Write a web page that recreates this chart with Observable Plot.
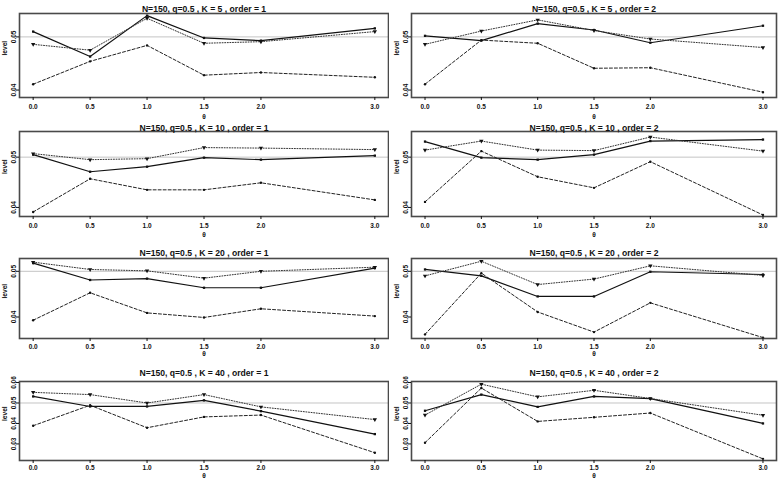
<!DOCTYPE html>
<html>
<head>
<meta charset="utf-8">
<script src="https://cdn.jsdelivr.net/npm/d3@7"></script>
<script src="https://cdn.jsdelivr.net/npm/@observablehq/plot@0.6"></script>
<style>
  html, body { margin: 0; padding: 0; background: #fff; }
  #wrap { position: relative; width: 778px; height: 480px; overflow: hidden; background: #fff; }
  #wrap > div { position: absolute; }
</style>
</head>
<body>
<div id="wrap"></div>
<script>
// ---- data ----
const theta = [0, 0.5, 1.0, 1.5, 2.0, 3.0];
const Ks = [5, 10, 20, 40];
const orders = [1, 2];
const seriesNames = ["solid", "dashed", "dotted"];

// K = 5
const k5o1_solid  = [0.0510, 0.0463, 0.0540, 0.0498, 0.0493, 0.0516];
const k5o1_dotted = [0.0486, 0.0475, 0.0535, 0.0488, 0.0491, 0.0510];
const k5o1_dashed = [0.0411, 0.0454, 0.0484, 0.0428, 0.0433, 0.0424];
const k5o2_solid  = [0.0502, 0.0493, 0.0525, 0.0513, 0.0489, 0.0521];
const k5o2_dotted = [0.0486, 0.0511, 0.0532, 0.0512, 0.0496, 0.0480];
const k5o2_dashed = [0.0411, 0.0494, 0.0488, 0.0441, 0.0442, 0.0396];
// K = 10
const k10o1_solid  = [0.0505, 0.0471, 0.0481, 0.0499, 0.0495, 0.0503];
const k10o1_dotted = [0.0507, 0.0495, 0.0497, 0.0519, 0.0518, 0.0515];
const k10o1_dashed = [0.0391, 0.0457, 0.0435, 0.0435, 0.0449, 0.0415];
const k10o2_solid  = [0.0531, 0.0499, 0.0495, 0.0505, 0.0532, 0.0535];
const k10o2_dotted = [0.0514, 0.0532, 0.0514, 0.0513, 0.0540, 0.0512];
const k10o2_dashed = [0.0411, 0.0512, 0.0461, 0.0439, 0.0491, 0.0385];
// K = 20
const k20o1_solid  = [0.0518, 0.0481, 0.0484, 0.0464, 0.0464, 0.0507];
const k20o1_dotted = [0.0520, 0.0504, 0.0501, 0.0485, 0.0500, 0.0509];
const k20o1_dashed = [0.0393, 0.0453, 0.0409, 0.0399, 0.0418, 0.0402];
const k20o2_solid  = [0.0504, 0.0490, 0.0445, 0.0445, 0.0499, 0.0493];
const k20o2_dotted = [0.0490, 0.0522, 0.0471, 0.0483, 0.0512, 0.0491];
const k20o2_dashed = [0.0362, 0.0496, 0.0411, 0.0367, 0.0431, 0.0355];
// K = 40
const k40o1_solid  = [0.0532, 0.0483, 0.0483, 0.0513, 0.0460, 0.0348];
const k40o1_dotted = [0.0552, 0.0541, 0.0500, 0.0541, 0.0481, 0.0419];
const k40o1_dashed = [0.0389, 0.0489, 0.0379, 0.0432, 0.0441, 0.0257];
const k40o2_solid  = [0.0462, 0.0541, 0.0481, 0.0532, 0.0521, 0.0400];
const k40o2_dotted = [0.0441, 0.0592, 0.0530, 0.0562, 0.0522, 0.0440];
const k40o2_dashed = [0.0306, 0.0573, 0.0410, 0.0430, 0.0451, 0.0227];

const nominalLevel = 0.05;
const yTicksByK = {5: [0.04, 0.05], 10: [0.04, 0.05], 20: [0.04, 0.05], 40: [0.03, 0.04, 0.05, 0.06]};

const panelValues = {
  "5-1": {solid: k5o1_solid, dashed: k5o1_dashed, dotted: k5o1_dotted},
  "5-2": {solid: k5o2_solid, dashed: k5o2_dashed, dotted: k5o2_dotted},
  "10-1": {solid: k10o1_solid, dashed: k10o1_dashed, dotted: k10o1_dotted},
  "10-2": {solid: k10o2_solid, dashed: k10o2_dashed, dotted: k10o2_dotted},
  "20-1": {solid: k20o1_solid, dashed: k20o1_dashed, dotted: k20o1_dotted},
  "20-2": {solid: k20o2_solid, dashed: k20o2_dashed, dotted: k20o2_dotted},
  "40-1": {solid: k40o1_solid, dashed: k40o1_dashed, dotted: k40o1_dotted},
  "40-2": {solid: k40o2_solid, dashed: k40o2_dashed, dotted: k40o2_dotted}
};

// ---- layout ----
const rowLayout = [
  {top: 0,   mt: 13, mb: 23, domain: [0.0386, 0.0544], titleDy: -8,  thetaDy: 21,   pad: 3.5},
  {top: 119, mt: 12, mb: 23, domain: [0.0382, 0.0551], titleDy: -7,  thetaDy: 20,   pad: 3.5},
  {top: 240, mt: 18, mb: 22, domain: [0.0353, 0.0528], titleDy: -9,  thetaDy: 17.5, pad: 3},
  {top: 360, mt: 21, mb: 20, domain: [0.0219, 0.0605], titleDy: -12, thetaDy: 17,   pad: 2}
];
const colLayout = [
  {left: 0,   ml: 19, mr: 1},
  {left: 389, ml: 22, mr: 2}
];
const styles = {
  solid:  {stroke: "#111", strokeWidth: 1.2, dash: null,  symbol: "square",   r: 1.3, rot: 0},
  dashed: {stroke: "#222", strokeWidth: 1.0, dash: "3,2", symbol: "circle",   r: 1.2, rot: 0},
  dotted: {stroke: "#333", strokeWidth: 1.0, dash: "1,1.6", symbol: "triangle", r: 1.6, rot: 180}
};

const wrap = document.getElementById("wrap");
const fmt1 = d3.format(".1f");
const fmt2 = d3.format(".2f");

Ks.forEach((K, ri) => {
  orders.forEach((order, ci) => {
    const R = rowLayout[ri], C = colLayout[ci];
    const vals = panelValues[`${K}-${order}`];
    const rows = [];
    for (const s of seriesNames) vals[s].forEach((v, i) => rows.push({series: s, theta: theta[i], level: v}));
    const title = `N=150, q=0.5 , K = ${K} , order = ${order}`;
    const marks = [
      Plot.ruleY([nominalLevel], {stroke: "#c4c4c4", strokeWidth: 1})
    ];
    for (const s of seriesNames) {
      const st = styles[s];
      const d = rows.filter(r => r.series === s);
      marks.push(Plot.line(d, {x: "theta", y: "level", stroke: st.stroke, strokeWidth: st.strokeWidth, strokeDasharray: st.dash}));
      marks.push(Plot.dot(d, {x: "theta", y: "level", symbol: () => st.symbol, fill: "#111", stroke: "none", r: st.r, rotate: st.rot}));
    }
    marks.push(
      Plot.frame({stroke: "#4a4a4a", strokeWidth: 1.6}),
      Plot.axisX({ticks: theta, tickFormat: fmt1, tickSize: 3, tickPadding: R.pad, label: null}),
      Plot.axisY({ticks: yTicksByK[K], tickFormat: () => "", tickSize: 3, label: null}),
      Plot.text(yTicksByK[K], {y: d => d, text: d => fmt2(d), frameAnchor: "left", dx: -4, rotate: -90, textAnchor: "middle", lineAnchor: "bottom"}),
      Plot.text([title], {frameAnchor: "top", dy: R.titleDy, fontSize: 8.6, fontWeight: "bold"}),
      Plot.text(["level"], {frameAnchor: "left", dx: -14.5, rotate: -90, fontSize: 6.6}),
      Plot.text(["θ"], {frameAnchor: "bottom", dy: R.thetaDy, fontSize: 6.6})
    );
    const chart = Plot.plot({
      width: 389,
      height: 120,
      marginTop: R.mt,
      marginBottom: R.mb,
      marginLeft: C.ml,
      marginRight: C.mr,
      x: {domain: [-0.12, 3.12]},
      y: {domain: R.domain},
      symbol: {type: "identity"},
      style: {fontFamily: "'Liberation Sans', Arial, sans-serif", fontWeight: "bold", fontSize: "6.5px", background: "transparent", color: "#111"},
      marks
    });
    const holder = document.createElement("div");
    holder.style.left = C.left + "px";
    holder.style.top = R.top + "px";
    holder.appendChild(chart);
    wrap.appendChild(holder);
  });
});
</script>
</body>
</html>
